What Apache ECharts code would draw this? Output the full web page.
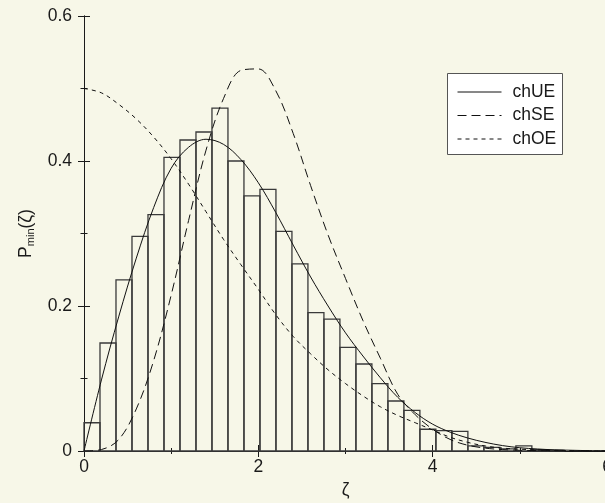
<!DOCTYPE html>
<html>
<head>
<meta charset="utf-8">
<script src="https://cdn.jsdelivr.net/npm/echarts/dist/echarts.min.js"></script>
<style>
html,body{margin:0;padding:0;background:#f7f7e8;}
#chart{width:605px;height:503px;}
</style>
</head>
<body>
<div id="chart"></div>
<script>
// Histogram: bin width and heights (bins start at 0)
var binWidth = 0.1835;
var binHeights = [0.039, 0.149, 0.236, 0.296, 0.326, 0.405, 0.429, 0.440, 0.473, 0.400,
                  0.352, 0.361, 0.303, 0.258, 0.191, 0.182, 0.143, 0.120, 0.093, 0.069,
                  0.056, 0.030, 0.028, 0.027, 0.007, 0.005, 0.003, 0.007, 0.002, 0.001];

// Curves: x grid and values
var curveX = [0, 0.2, 0.4, 0.6, 0.8, 1.0, 1.2, 1.4, 1.6, 1.8, 2.0, 2.2, 2.4, 2.6, 2.8, 3.0,
              3.2, 3.4, 3.6, 3.8, 4.0, 4.2, 4.4, 4.6, 4.8, 5.0, 5.2, 5.4, 5.6, 5.8, 6.0];
var chUE = [0, 0.098, 0.186, 0.266, 0.336, 0.390, 0.419, 0.430, 0.423, 0.402, 0.370,
            0.329, 0.284, 0.240, 0.200, 0.163, 0.131, 0.101, 0.074, 0.053, 0.037, 0.026,
            0.018, 0.012, 0.0075, 0.0045, 0.0028, 0.0016, 0.001, 0.0005, 0.0003];
var chSE = [0, 0.002, 0.016, 0.058, 0.125, 0.215, 0.318, 0.415, 0.486, 0.525, 0.527,
            0.497, 0.438, 0.366, 0.298, 0.238, 0.180, 0.128, 0.078, 0.050, 0.030, 0.016,
            0.008, 0.004, 0.002, 0.001, 0.0006, 0.0003, 0.0002, 0.0001, 0];
var chOE = [0.5, 0.494, 0.478, 0.458, 0.433, 0.403, 0.368, 0.330, 0.292, 0.257, 0.223,
            0.188, 0.158, 0.134, 0.112, 0.093, 0.076, 0.061, 0.049, 0.039, 0.029, 0.019,
            0.012, 0.007, 0.004, 0.0025, 0.0015, 0.0008, 0.0005, 0.0002, 0.0001];
var seriesNames = ['chUE', 'chSE', 'chOE'];

var xTicks = {min: 0, max: 6, interval: 2};
var yTicks = {min: 0, max: 0.6, interval: 0.2};

function pairs(xs, ys) { return xs.map(function (x, i) { return [x, ys[i]]; }); }

var FONT = '"Liberation Sans", Arial, sans-serif';
var axisColor = '#1a1a1a';

function xAxisCfg(pos, showLabel, name) {
  return {
    type: 'value', position: pos, min: xTicks.min, max: xTicks.max, interval: xTicks.interval,
    axisLine: {show: true, lineStyle: {color: axisColor, width: 1}},
    axisTick: {show: true, inside: true, length: 6, lineStyle: {color: axisColor}},
    minorTick: {show: true, splitNumber: 2, length: 3, lineStyle: {color: axisColor}},
    splitLine: {show: false},
    axisLabel: {show: showLabel, color: '#1a1a1a', fontSize: 17.5, fontFamily: FONT, margin: 7,
                showMinLabel: true, showMaxLabel: true, hideOverlap: false},
    name: name || '', nameLocation: 'middle', nameGap: 28,
    nameTextStyle: {color: '#1a1a1a', fontSize: 17.5, fontFamily: FONT}
  };
}
function yAxisCfg(pos, showLabel, name) {
  return {
    type: 'value', position: pos, min: yTicks.min, max: yTicks.max, interval: yTicks.interval,
    axisLine: {show: true, lineStyle: {color: axisColor, width: 1}},
    axisTick: {show: true, inside: true, length: 6, lineStyle: {color: axisColor}},
    minorTick: {show: true, splitNumber: 2, length: 3.5, lineStyle: {color: axisColor}},
    splitLine: {show: false},
    axisLabel: {show: showLabel, color: '#1a1a1a', fontSize: 17.5, fontFamily: FONT, margin: 12},
    name: name || '', nameLocation: 'middle', nameGap: 47, nameRotate: 90,
    nameTextStyle: {
      color: '#1a1a1a', fontFamily: FONT, padding: [0, 0, 0, 0],
      rich: {
        p: {fontSize: 17.5, fontFamily: FONT, color: '#1a1a1a', lineHeight: 22, verticalAlign: 'middle'},
        s: {fontSize: 11, fontFamily: FONT, color: '#1a1a1a', lineHeight: 11, verticalAlign: 'bottom'}
      }
    }
  };
}

var chart = echarts.init(document.getElementById('chart'), null, {renderer: 'canvas'});
var option = {
  animation: false,
  backgroundColor: '#f7f7e8',
  grid: {left: 84, top: 16, width: 523, height: 435, containLabel: false, outerBoundsMode: 'none'},
  graphic: [{
    type: 'rect', left: 447, top: 73, z: 10,
    shape: {width: 115, height: 81},
    style: {fill: '#ffffff', stroke: '#555', lineWidth: 1}
  }],
  legend: {
    orient: 'vertical', left: 457, top: 83, z: 20,
    data: seriesNames,
    itemWidth: 44, itemHeight: 14, itemGap: 5.5,
    padding: 0,
    itemStyle: {opacity: 0},
    lineStyle: {width: 1},
    textStyle: {color: '#1a1a1a', fontSize: 17.5, fontFamily: FONT, padding: [0, 0, 0, 6]},
    selectedMode: false
  },
  xAxis: [xAxisCfg('bottom', true, 'ζ'), xAxisCfg('top', false)],
  yAxis: [yAxisCfg('left', true, '{p|P}{s|min}{p|(ζ)}'), yAxisCfg('right', false)],
  series: [
    {
      name: 'hist', type: 'custom', silent: true,
      data: binHeights.map(function (h, i) { return [i * binWidth, (i + 1) * binWidth, h]; }),
      encode: {x: [0, 1], y: 2},
      renderItem: function (params, api) {
        var p0 = api.coord([api.value(0), api.value(2)]);
        var p1 = api.coord([api.value(1), 0]);
        return {
          type: 'rect',
          shape: {x: p0[0], y: p0[1], width: p1[0] - p0[0], height: p1[1] - p0[1]},
          style: {fill: 'none', stroke: '#3a3a3a', lineWidth: 1.3}
        };
      }
    },
    {name: seriesNames[0], type: 'line', data: pairs(curveX, chUE), smooth: 0.35, symbol: 'none',
     lineStyle: {color: '#111', width: 1, type: 'solid'}, itemStyle: {color: '#111'}},
    {name: seriesNames[1], type: 'line', data: pairs(curveX, chSE), smooth: 0.35, symbol: 'none',
     lineStyle: {color: '#111', width: 1, type: [9, 5]}, itemStyle: {color: '#111'}},
    {name: seriesNames[2], type: 'line', data: pairs(curveX, chOE), smooth: 0.35, symbol: 'none',
     lineStyle: {color: '#111', width: 1, type: [4, 4]}, itemStyle: {color: '#111'}}
  ]
};
chart.setOption(option);
</script>
</body>
</html>
